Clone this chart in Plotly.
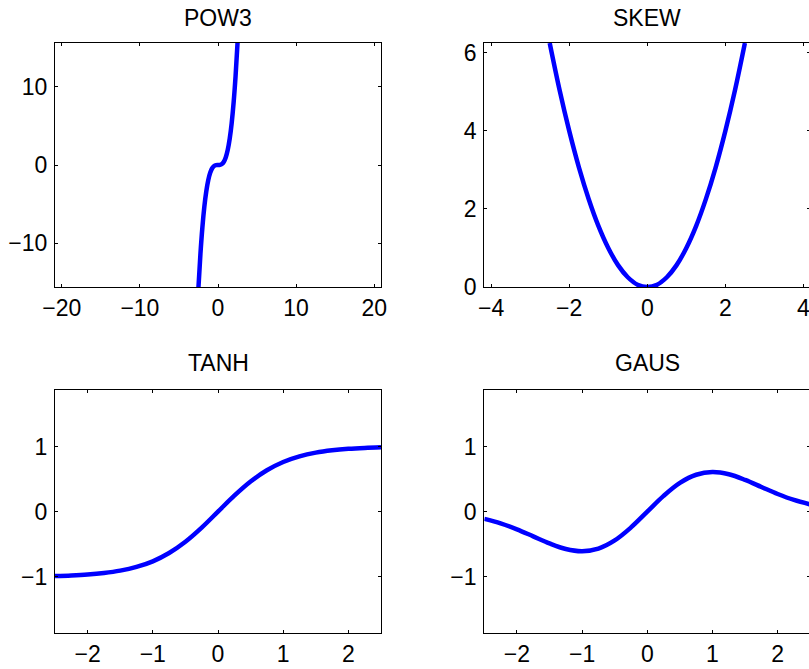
import plotly.graph_objects as go

# Sample abscissae shared by the four nonlinearity curves
x_pts = [-2.5, -2.25, -2.0, -1.75, -1.5, -1.25, -1.0, -0.75, -0.5, -0.25, 0.0,
         0.25, 0.5, 0.75, 1.0, 1.25, 1.5, 1.75, 2.0, 2.25, 2.5]

pow3_y = [-15.63, -11.39, -8.0, -5.36, -3.38, -1.95, -1.0, -0.42, -0.13, -0.02, 0.0,
          0.02, 0.13, 0.42, 1.0, 1.95, 3.38, 5.36, 8.0, 11.39, 15.63]
skew_y = [6.25, 5.06, 4.0, 3.06, 2.25, 1.56, 1.0, 0.56, 0.25, 0.06, 0.0,
          0.06, 0.25, 0.56, 1.0, 1.56, 2.25, 3.06, 4.0, 5.06, 6.25]
tanh_y = [-0.987, -0.978, -0.964, -0.941, -0.905, -0.848, -0.762, -0.635, -0.462, -0.245, 0.0,
          0.245, 0.462, 0.635, 0.762, 0.848, 0.905, 0.941, 0.964, 0.978, 0.987]
gaus_y = [-0.110, -0.179, -0.271, -0.379, -0.487, -0.573, -0.607, -0.566, -0.441, -0.242, 0.0,
          0.242, 0.441, 0.566, 0.607, 0.573, 0.487, 0.379, 0.271, 0.179, 0.110]

titles = ["POW3", "SKEW", "TANH", "GAUS"]
series = [pow3_y, skew_y, tanh_y, gaus_y]

x_ranges = [[-20.87, 20.87], [-4.175, 4.175], [-2.5, 2.5], [-2.5, 2.5]]
y_ranges = [[-15.625, 15.625], [0, 6.25], [-1.866, 1.866], [-1.866, 1.866]]
x_ticks = [[-20, -10, 0, 10, 20], [-4, -2, 0, 2, 4], [-2, -1, 0, 1, 2], [-2, -1, 0, 1, 2]]
y_ticks = [[-10, 0, 10], [0, 2, 4, 6], [-1, 0, 1], [-1, 0, 1]]

W, H = 812, 669
# pixel boxes of each panel: (left, right, top, bottom)
boxes = [(55, 381, 43, 287), (484.3, 810.3, 43, 287),
         (55, 381, 390, 633.3), (484.3, 810.3, 390, 633.3)]
title_y = [17.5, 17.5, 363, 363]

FONT = "Liberation Sans, Arial, Helvetica, sans-serif"
FS = 23

fig = go.Figure()
layout = dict(
    width=W, height=H,
    margin=dict(l=0, r=0, t=0, b=0, autoexpand=False),
    paper_bgcolor="white", plot_bgcolor="white",
    showlegend=False,
    font=dict(family=FONT, size=FS, color="black"),
    annotations=[],
)

for i in range(4):
    n = "" if i == 0 else str(i + 1)
    left, right, top, bottom = boxes[i]
    fig.add_trace(go.Scatter(
        x=x_pts, y=series[i], mode="lines",
        line=dict(color="#0000ff", width=4.5, shape="spline", smoothing=1.0),
        xaxis="x" + n, yaxis="y" + n, hoverinfo="skip",
    ))
    axis_common = dict(
        showline=True, linecolor="black", linewidth=1.2, mirror="ticks",
        ticks="inside", ticklen=3, tickwidth=1, tickcolor="black",
        showgrid=False, zeroline=False, fixedrange=True, automargin=False,
        tickfont=dict(family=FONT, size=FS, color="black"),
    )
    layout["xaxis" + n] = dict(
        axis_common, domain=[left / W, right / W], range=x_ranges[i],
        tickmode="array", tickvals=x_ticks[i], anchor="y" + n,
        ticklabelstandoff=0,
    )
    layout["yaxis" + n] = dict(
        axis_common, domain=[1 - bottom / H, 1 - top / H], range=y_ranges[i],
        tickmode="array", tickvals=y_ticks[i], anchor="x" + n,
        ticklabelstandoff=2,
    )
    layout["annotations"].append(dict(
        text=titles[i], xref="paper", yref="paper",
        x=(left + right) / 2 / W, y=1 - title_y[i] / H,
        xanchor="center", yanchor="middle", showarrow=False,
        font=dict(family=FONT, size=FS, color="black"),
    ))

fig.update_layout(**layout)
fig.write_html(
    "out.html",
    post_script="document.body.style.overflow='hidden';document.documentElement.style.overflow='hidden';",
)
